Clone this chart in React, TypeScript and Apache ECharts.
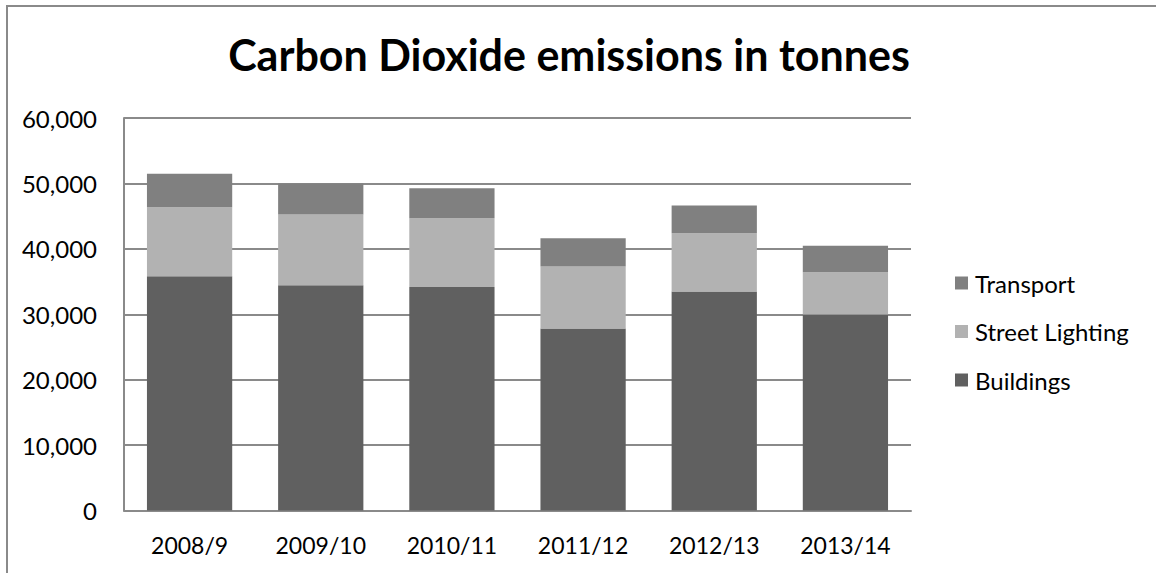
import React, { useEffect, useRef } from "react";
import * as echarts from "echarts";

const categories = ["2008/9", "2009/10", "2010/11", "2011/12", "2012/13", "2013/14"];
// stacked tops, converted to per-segment values
const buildings = [35800, 34430, 34180, 27840, 33460, 29950];
const streetLighting = [10570, 10820, 10510, 9450, 8930, 6470];
const transport = [5120, 4750, 4590, 4330, 4240, 4040];
const yTicks = [0, 10000, 20000, 30000, 40000, 50000, 60000];

const FONT = "Lato, 'Noto Sans', sans-serif";
const GRID = "#8a8a8a";

export default function App() {
  const ref = useRef<HTMLDivElement>(null);
  useEffect(() => {
    if (!ref.current) return;
    const chart = echarts.init(ref.current, undefined, { renderer: "svg" });
    chart.setOption({
      animation: false,
      backgroundColor: "#ffffff",
      title: {
        text: "Carbon Dioxide emissions in tonnes",
        left: 564,
        textAlign: "center",
        top: 28,
        textStyle: { fontFamily: FONT, fontWeight: "bold", fontSize: 43, color: "#000" },
      },
      graphic: [
        {
          type: "rect",
          shape: { x: 7, y: 6, width: 1300, height: 700 },
          style: { fill: "none", stroke: "#8a8a8a", lineWidth: 2 },
          silent: true,
        },
      ],
      legend: {
        orient: "vertical",
        left: 955,
        top: 271,
        padding: 0,
        itemWidth: 13,
        itemHeight: 13,
        itemGap: 24.5,
        icon: "rect",
        data: ["Transport", "Street Lighting", "Buildings"],
        textStyle: { fontFamily: FONT, fontSize: 24, color: "#000", lineHeight: 24, padding: [0, 0, 0, 2] },
      },
      grid: { left: 124, right: 245, top: 118, bottom: 62.5, containLabel: false },
      xAxis: {
        type: "category",
        data: categories,
        axisLine: { lineStyle: { color: GRID, width: 2 } },
        axisTick: { show: false },
        axisLabel: { fontFamily: FONT, fontSize: 23, color: "#000", margin: 23 },
      },
      yAxis: {
        type: "value",
        min: yTicks[0],
        max: yTicks[yTicks.length - 1],
        interval: 10000,
        axisLine: { show: true, lineStyle: { color: GRID, width: 2 } },
        axisTick: { show: false },
        splitLine: { lineStyle: { color: GRID, width: 2 } },
        axisLabel: {
          fontFamily: FONT,
          fontSize: 24,
          color: "#000",
          margin: 27,
          formatter: (v: number) => v.toLocaleString("en-US"),
        },
      },
      series: [
        {
          name: "Buildings",
          type: "bar",
          stack: "total",
          data: buildings,
          barCategoryGap: "35%",
          itemStyle: { color: "#606060" },
        },
        {
          name: "Street Lighting",
          type: "bar",
          stack: "total",
          data: streetLighting,
          itemStyle: { color: "#b2b2b2" },
        },
        {
          name: "Transport",
          type: "bar",
          stack: "total",
          data: transport,
          itemStyle: { color: "#808080" },
        },
      ],
    });
    return () => chart.dispose();
  }, []);
  return <div ref={ref} style={{ width: 1156, height: 573, position: "absolute", left: 0, top: 0 }} />;
}
